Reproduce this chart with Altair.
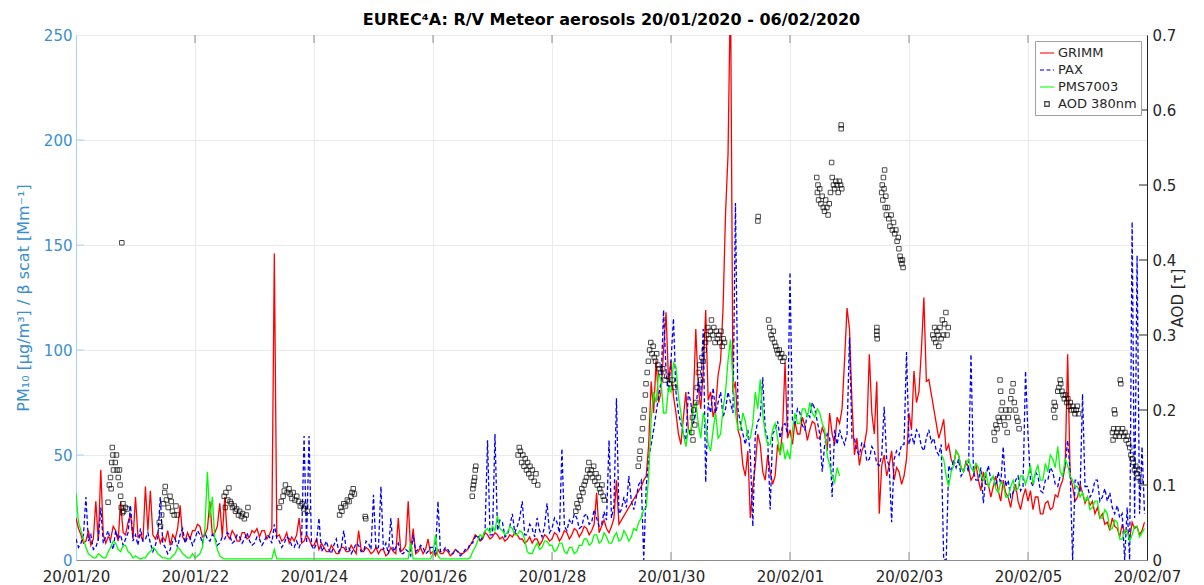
import altair as alt
import pandas as pd

# ---------------- data ----------------
series_names = ["GRIMM", "PAX", "PMS7003", "AOD 380nm"]
series_colors = ["#ff0000", "#0000ff", "#00ff00", "#000000"]

date_ticks = [(1, 20), (1, 22), (1, 24), (1, 26), (1, 28), (1, 30),
              (2, 1), (2, 3), (2, 5), (2, 7)]
left_ticks = [0, 50, 100, 150, 200, 250]
right_ticks = [0, 0.1, 0.2, 0.3, 0.4, 0.5, 0.6, 0.7]

# hourly values, one row per day (20/01 ... 06/02); None = no reading
grimm_days = [
    [20, 15, 12, 8, 9, 14, 7, 10, 28, 9, 43, 12, 8, 11, 10, 16, 14, 9, 28, 13, 12, 18, 22, 10],
    [30, 11, 12, 9, 35, 14, 33, 12, 10, 13, 8, 11, 9, 14, 7, 12, 10, 15, 26, 11, 9, 13, 10, 14],
    [14, 17, 16, 11, 12, 15, 28, 12, 13, 16, 27, 11, 30, 12, 10, 14, 12, 9, 9, 13, 13, 10, 11, 14],
    [13, 15, 11, 14, 14, 10, 12, 15, 146, 11, 12, 9, 10, 13, 8, 11, 9, 12, 20, 8, 9, 12, 10, 7],
    [7, 10, 5, 8, 6, 4, 4, 7, 5, 3, 3, 6, 6, 4, 4, 7, 5, 3, 14, 5, 4, 6, 5, 3],
    [4, 6, 3, 5, 5, 2, 3, 6, 4, 3, 20, 4, 5, 7, 28, 4, 15, 3, 4, 6, 3, 5, 10, 3],
    [4, 2, 5, 3, 3, 5, 4, 2, 3, 5, 4, 3, 3, 4, 5, 7, 9, 12, 11, 9, 10, 13, 12, 10],
    [11, 13, 12, 10, 11, 9, 10, 12, 11, 13, 12, 10, 10, 8, 9, 11, 8, 10, 10, 7, 9, 12, 11, 9],
    [10, 13, 12, 9, 11, 14, 13, 10, 12, 15, 14, 11, 13, 16, 15, 12, 14, 17, 32, 13, 16, 19, 15, 13],
    [16, 20, 38, 17, 19, None, None, None, None, None, None, None, 35, 38, 40, 55, 85, 70, 95, 75, 80, 100, 118, 85],
    [95, 78, 70, 60, 55, 68, 80, 62, 60, 75, 110, 82, 72, 90, 119, 76, 80, 68, 73, 88, 95, 120, 165, 193],
    [275, 80, 85, 62, 58, 45, 40, 52, 20, 35, 45, 60, 55, 42, 38, 50, 42, 36, 40, 55, 50, 62, 94, 58],
    [62, 55, 66, 60, 60, 68, 64, 57, 62, 66, 65, 58, 58, 63, 60, 52, 70, 60, 55, 68, 65, 72, 95, 120],
    [110, 75, 50, 58, 45, 52, 55, 62, 98, 70, 60, 85, 22, 45, 50, 40, 45, 52, 38, 44, 42, 36, 40, 48],
    [70, 62, 90, 75, 80, 100, 125, 85, 86, None, None, None, 58, 62, 67, 52, 55, 48, 45, 52, 50, 44, 42, 47],
    [44, 38, 40, 46, 38, 33, 42, 36, 36, 30, 35, 40, 33, 28, 38, 32, 30, 25, 32, 36, 28, 24, 30, 34],
    [28, 33, 24, 30, 30, 22, 22, 27, 28, 24, 25, 31, 30, 35, 38, 45, 98, 40, 35, 28, 30, 36, 32, 27],
    [30, 26, 28, 22, 25, 20, 22, 17, 18, 14, 20, 16, 15, 11, 17, 13, 14, 10, 18, 15, 16, 12, 14, 18],
]
pax_days = [
    [10, 6, 8, 12, 30, 9, 12, 5, 6, 10, 25, 8, 11, 14, 8, 5, 14, 10, 12, 7, 10, 13, 26, 9],
    [12, 7, 15, 9, 10, 13, 8, 4, 7, 11, 30, 8, 6, 3, 5, 9, 10, 6, 12, 15, 8, 11, 11, 7],
    [10, 14, 12, 8, 13, 10, 9, 12, 11, 7, 8, 11, 10, 13, 12, 8, 9, 12, 11, 8, 10, 13, 9, 7],
    [8, 11, 10, 7, 9, 12, 11, 8, 17, 10, 9, 6, 8, 11, 10, 7, 6, 9, 6, 9, 59, 8, 59, 7],
    [5, 8, 20, 4, 6, 9, 5, 3, 7, 10, 4, 6, 14, 5, 6, 3, 5, 8, 7, 4, 4, 9, 8, 5],
    [31, 5, 6, 35, 5, 8, 3, 20, 4, 6, 8, 3, 3, 5, 4, 2, 12, 4, 5, 7, 6, 3, 4, 6],
    [6, 3, 28, 4, 4, 6, 5, 3, 3, 5, 4, 2, 3, 5, 5, 8, 8, 11, 12, 9, 11, 14, 57, 12],
    [12, 60, 14, 19, 18, 11, 12, 16, 22, 13, 16, 20, 28, 12, 12, 17, 15, 11, 20, 14, 11, 16, 27, 13],
    [15, 20, 18, 13, 53, 16, 14, 19, 17, 22, 20, 15, 16, 21, 22, 17, 18, 24, 20, 16, 17, 23, 19, 57],
    [20, 26, 77, 22, 24, 30, 25, 40, 28, 24, 30, 36, 38, 0, 35, 48, 55, 62, 70, 78, 85, 119, 90, 80],
    [95, 115, 80, 70, 65, 60, 57, 80, 75, 65, 70, 85, 78, 110, 37, 75, 70, 82, 70, 75, 80, 68, 72, 80],
    [75, 70, 170, 72, 65, 60, 55, 62, 50, 16, 60, 66, 68, 87, 62, 58, 24, 60, 62, 66, 58, 64, 65, 60],
    [137, 66, 65, 72, 70, 64, 62, 70, 68, 75, 72, 66, 60, 42, 55, 60, 58, 30, 62, 55, 62, 58, 55, 60],
    [106, 58, 58, 52, 50, 56, 55, 47, 48, 54, 52, 46, 45, 50, 73, 48, 45, 18, 48, 52, 50, 55, 55, 99],
    [55, 60, 55, 62, 60, 54, 52, 58, 62, 56, 58, 52, 50, 55, 0, 0, 45, 42, 48, 44, 48, 40, 42, 46],
    [42, 98, 42, 38, 38, 44, 27, 40, 45, 38, 40, 35, 42, 36, 54, 35, 38, 30, 32, 38, 40, 33, 35, 90],
    [60, 38, 35, 42, 40, 33, 32, 38, 38, 44, 42, 36, 35, 40, 40, 45, 57, 42, 0, 38, 38, 32, 79, 35],
    [35, 30, 32, 38, 38, 28, 30, 34, 28, 32, 25, 22, 26, 20, 22, 0, 25, 0, 161, 20, 145, 22, 54, 22],
]
pms7003_days = [
    [32, 18, 14, 10, 6, 3, 2, 1, 1, 3, 2, 1, 1, 4, 6, 9, 8, 5, 4, 7, 7, 4, 3, 1],
    [2, 1, 0.5, 1, 1, 3, 4, 6, 5, 3, 2, 1, 1, 0.5, 0.5, 2, 3, 6, 5, 3, 2, 1, 1, 3],
    [1, 2, 3, 6, 15, 42, 20, 30, 10, 5, 2, 1, 0.5, 0.5, 0.5, 0.5, 0.5, 0.5, 0.5, 0.5, 0.5, 0.5, 0.5, 0.5],
    [0.5, 0.5, 0.5, 0.5, 0.5, 0.5, 0.5, 0.5, 5, 0.5, 0.5, 0.5, 0.5, 0.5, 0.5, 0.5, 0.5, 0.5, 0.5, 0.5, 0.5, 0.5, 0.5, 0.5],
    [0.5, 0.5, 0.5, 0.5, 0.5, 0.5, 0.5, 0.5, 0.5, 0.5, 0.5, 0.5, 0.5, 0.5, 0.5, 0.5, 0.5, 0.5, 0.5, 0.5, 0.5, 0.5, 0.5, 0.5],
    [0.5, 0.5, 0.5, 0.5, 0.5, 0.5, 0.5, 0.5, 0.5, 0.5, 0.5, 0.5, 0.5, 0.5, 0.5, 8, 0.5, 0.5, 0.5, 0.5, 0.5, 0.5, 0.5, 0.5],
    [3, 12, 2, 0.5, 0.5, 0.5, 0.5, 0.5, 0.5, 0.5, 0.5, 0.5, 0.5, 0.5, 0.5, 1, 4, 6, 9, 12, 11, 14, 15, 13],
    [16, 14, 21, 15, 14, 12, 13, 16, 15, 12, 12, 14, 13, 10, 4, 3, 3, 6, 8, 5, 6, 9, 9, 7],
    [7, 4, 5, 8, 8, 4, 3, 6, 6, 3, 4, 7, 7, 10, 10, 7, 8, 12, 12, 8, 9, 13, 11, 8],
    [8, 11, 13, 9, 10, 14, 12, 9, 11, 15, 14, 18, 20, 24, 25, 40, 67, 80, 75, 89, 85, 70, 70, 82],
    [80, 94, 92, 78, 70, 60, 54, 62, 60, 72, 75, 65, 58, 70, 65, 55, 52, 62, 70, 58, 60, 72, 80, 95],
    [105, 85, 70, 62, 62, 70, 66, 58, 58, 65, 80, 72, 86, 70, 60, 55, 55, 62, 65, 58, 50, 56, 48, 52],
    [48, 62, 70, 65, 65, 72, 72, 68, 75, 70, 68, 72, 70, 65, 62, 50, 45, 40, 37, 44, 40, None, None, None],
    [None, None, None, None, None, None, None, None, None, None, None, None, None, None, None, None, None, None, None, None, None, None, None, None],
    [None, None, None, None, None, None, None, None, None, None, None, None, None, 50, 48, 40, 35, 42, 45, 52, 50, 44, 42, 46],
    [48, 44, 42, 46, 44, 40, 38, 42, 35, 38, 40, 34, 32, 37, 36, 30, 30, 35, 38, 33, 34, 40, 40, 36],
    [40, 45, 36, 42, 45, 38, 38, 46, 42, 50, 48, 44, 54, 42, 40, 48, 45, 40, 38, 35, 35, 30, 32, 28],
    [30, 24, 25, 28, 28, 20, 20, 24, 22, 15, 15, 19, 18, 10, 10, 14, 14, 9, 12, 16, 16, 11, 13, 15],
]

# AOD 380nm: day offset from 20/01/2020 00:00 and value (one line per cluster)
aod_day = [
    0.77,
    0.54, 0.56, 0.58, 0.59, 0.60, 0.61, 0.62, 0.63, 0.66, 0.68, 0.69, 0.71, 0.73, 0.74, 0.75, 0.76, 0.78, 0.79, 0.80, 0.83, 0.86,
    1.40, 1.42, 1.44, 1.47, 1.49, 1.50, 1.52, 1.55, 1.58, 1.60, 1.62, 1.65, 1.68, 1.70,
    2.49, 2.51, 2.52, 2.55, 2.57, 2.59, 2.61, 2.63, 2.66, 2.68, 2.70, 2.73, 2.75, 2.78, 2.80, 2.83, 2.86, 2.89,
    3.42, 3.45, 3.48, 3.50, 3.52, 3.55, 3.58, 3.60, 3.63, 3.65, 3.68, 3.71, 3.74, 3.77, 3.80, 3.83, 3.86, 3.89,
    4.43, 4.45, 4.47, 4.50, 4.53, 4.56, 4.59, 4.62, 4.64, 4.66, 4.68, 4.86, 4.87,
    6.66, 6.67, 6.68, 6.69, 6.70, 6.71, 6.72,
    7.43, 7.45, 7.47, 7.49, 7.51, 7.53, 7.55, 7.57, 7.59, 7.61, 7.63, 7.65, 7.67, 7.70, 7.73, 7.76,
    8.40, 8.42, 8.44, 8.46, 8.48, 8.50, 8.52, 8.54, 8.56, 8.58, 8.60, 8.62, 8.64, 8.66, 8.68, 8.70, 8.72, 8.74, 8.76, 8.78, 8.80, 8.82, 8.84, 8.86, 8.88,
    9.45, 9.47, 9.48, 9.50, 9.52, 9.53, 9.55, 9.57, 9.58, 9.60, 9.62, 9.64, 9.66, 9.68, 9.70, 9.72, 9.74, 9.76, 9.78, 9.80, 9.83, 9.86, 9.90, 9.93, 9.97, 10.02, 10.06,
    10.35, 10.36, 10.37, 10.38, 10.40, 10.42, 10.44, 10.46, 10.48, 10.50, 10.52, 10.54, 10.56, 10.58, 10.60, 10.62, 10.64, 10.66, 10.68, 10.70, 10.72, 10.74, 10.76, 10.78, 10.80, 10.82, 10.84, 10.86, 10.88, 10.90,
    11.46, 11.465,
    11.64, 11.66, 11.68, 11.70, 11.72, 11.74, 11.76, 11.78, 11.80, 11.82, 11.84, 11.86, 11.88, 11.90,
    12.45, 12.46, 12.47, 12.48, 12.50, 12.52, 12.54, 12.56, 12.58, 12.60, 12.62, 12.64, 12.66, 12.68, 12.70, 12.71, 12.73, 12.75, 12.77, 12.79, 12.81, 12.83, 12.85, 12.87,
    12.86, 12.86,
    13.46, 13.46, 13.46, 13.465,
    13.54, 13.55, 13.56, 13.57, 13.58, 13.59, 13.60, 13.61, 13.62, 13.64, 13.66, 13.68, 13.70, 13.72, 13.74, 13.76, 13.78, 13.80, 13.82, 13.83, 13.85, 13.86, 13.88, 13.89, 13.90,
    14.40, 14.42, 14.43, 14.45, 14.47, 14.49, 14.50, 14.52, 14.54, 14.56, 14.58, 14.60, 14.62, 14.64, 14.66,
    15.43, 15.44, 15.46, 15.48, 15.50, 15.52, 15.53, 15.54, 15.55, 15.57, 15.59, 15.61, 15.63, 15.65, 15.67, 15.69, 15.71, 15.73, 15.75, 15.77, 15.79, 15.81, 15.83, 15.85,
    16.43, 16.44, 16.45, 16.46, 16.50, 16.52, 16.54, 16.55, 16.57, 16.59, 16.61, 16.63, 16.65, 16.67, 16.69, 16.71, 16.73, 16.75, 16.77, 16.79, 16.81, 16.83, 16.85,
    17.42, 17.43, 17.44, 17.45, 17.46, 17.47, 17.49, 17.51, 17.53, 17.55, 17.56, 17.57, 17.59, 17.61, 17.63, 17.65, 17.67, 17.69, 17.71, 17.73, 17.75, 17.77, 17.79, 17.81, 17.83, 17.85, 17.87, 17.89,
]
aod_val = [
    0.423,
    0.077, 0.10, 0.11, 0.095, 0.13, 0.15, 0.14, 0.12, 0.13, 0.14, 0.12, 0.11, 0.12, 0.10, 0.085, 0.07, 0.063, 0.075, 0.065, 0.07, 0.068,
    0.05, 0.045, 0.06, 0.075, 0.09, 0.098, 0.08, 0.07, 0.085, 0.078, 0.065, 0.06, 0.072, 0.06,
    0.085, 0.07, 0.09, 0.08, 0.096, 0.078, 0.075, 0.07, 0.072, 0.065, 0.068, 0.06, 0.065, 0.058, 0.062, 0.055, 0.06, 0.07,
    0.07, 0.078, 0.085, 0.092, 0.10, 0.09, 0.095, 0.088, 0.082, 0.09, 0.08, 0.085, 0.078, 0.072, 0.075, 0.068, 0.072, 0.065,
    0.06, 0.07, 0.065, 0.075, 0.072, 0.08, 0.078, 0.085, 0.09, 0.095, 0.088, 0.058, 0.055,
    0.085, 0.095, 0.10, 0.105, 0.11, 0.12, 0.125,
    0.14, 0.15, 0.145, 0.13, 0.14, 0.125, 0.135, 0.12, 0.13, 0.115, 0.125, 0.11, 0.12, 0.105, 0.115, 0.10,
    0.065, 0.075, 0.07, 0.085, 0.08, 0.095, 0.09, 0.10, 0.105, 0.11, 0.12, 0.13, 0.115, 0.12, 0.11, 0.125, 0.105, 0.115, 0.10, 0.11, 0.095, 0.09, 0.10, 0.085, 0.08,
    0.125, 0.135, 0.145, 0.16, 0.175, 0.19, 0.20, 0.22, 0.235, 0.25, 0.265, 0.28, 0.29, 0.275, 0.285, 0.27, 0.265, 0.275, 0.26, 0.255, 0.25, 0.255, 0.24, 0.245, 0.235, 0.24, 0.23,
    0.17, 0.19, 0.16, 0.20, 0.18, 0.21, 0.23, 0.25, 0.26, 0.24, 0.27, 0.265, 0.28, 0.29, 0.30, 0.31, 0.295, 0.305, 0.32, 0.30, 0.31, 0.29, 0.305, 0.295, 0.30, 0.29, 0.305, 0.285, 0.295, 0.29,
    0.452, 0.458,
    0.32, 0.31, 0.30, 0.295, 0.305, 0.29, 0.285, 0.28, 0.275, 0.28, 0.27, 0.275, 0.265, 0.27,
    0.51, 0.49, 0.50, 0.48, 0.495, 0.475, 0.485, 0.47, 0.465, 0.48, 0.47, 0.46, 0.475, 0.49, 0.53, 0.51, 0.50, 0.495, 0.505, 0.50, 0.49, 0.505, 0.50, 0.495,
    0.58, 0.575,
    0.31, 0.305, 0.30, 0.295,
    0.49, 0.50, 0.48, 0.51, 0.495, 0.52, 0.47, 0.485, 0.46, 0.47, 0.455, 0.445, 0.46, 0.44, 0.45, 0.435, 0.44, 0.425, 0.43, 0.415, 0.405, 0.40, 0.395, 0.40, 0.39,
    0.30, 0.295, 0.31, 0.29, 0.305, 0.30, 0.285, 0.31, 0.295, 0.32, 0.30, 0.315, 0.33, 0.30, 0.31,
    0.17, 0.16, 0.18, 0.175, 0.19, 0.185, 0.24, 0.225, 0.20, 0.21, 0.19, 0.18, 0.20, 0.17, 0.19, 0.20, 0.215, 0.225, 0.235, 0.21, 0.20, 0.19, 0.185, 0.175,
    0.20, 0.21, 0.19, 0.205, 0.225, 0.23, 0.24, 0.235, 0.225, 0.22, 0.215, 0.22, 0.21, 0.215, 0.205, 0.21, 0.20, 0.205, 0.20, 0.195, 0.20, 0.205, 0.195,
    0.17, 0.16, 0.175, 0.20, 0.195, 0.165, 0.17, 0.175, 0.165, 0.24, 0.235, 0.17, 0.175, 0.165, 0.17, 0.16, 0.165, 0.155, 0.15, 0.14, 0.135, 0.13, 0.12, 0.125, 0.115, 0.11, 0.12, 0.105,
]
assert len(aod_day) == len(aod_val), (len(aod_day), len(aod_val))
for days in (grimm_days, pax_days, pms7003_days):
    assert len(days) == 18 and all(len(d) == 24 for d in days), [len(d) for d in days]

# ---------------- tables ----------------
base = pd.Timestamp("2020-01-20")


def line_frame(name, days, break_on_gap):
    rows, seg, gap = [], 0, False
    values = [v for day in days for v in day]
    for i, v in enumerate(values):
        if v is None:
            gap = True
            continue
        if gap and break_on_gap:
            seg += 1
        gap = False
        t = base + pd.Timedelta(hours=i)
        rows.append({"time": t.isoformat(), "value": v, "series": name, "seg": seg})
    return pd.DataFrame(rows)


df_grimm = line_frame("GRIMM", grimm_days, False)
df_pax = line_frame("PAX", pax_days, True)
df_pms = line_frame("PMS7003", pms7003_days, True)
df_aod = pd.DataFrame({
    "time": [(base + pd.Timedelta(days=d)).isoformat() for d in aod_day],
    "aod": aod_val,
    "series": "AOD 380nm",
})
df_dates = pd.DataFrame({"t": [pd.Timestamp(2020, m, d).isoformat() for m, d in date_ticks[1:-1]]})
df_lt = pd.DataFrame({"v": left_ticks[1:-1]})
df_rt = pd.DataFrame({"v": right_ticks[1:-1]})

# ---------------- styling ----------------
W, H = 1071, 525
BLUE = "#3a8fd1"
LIGHTBLUE = "#a9d1f0"
DARK = "#262626"
FRAME = "#8c8c8c"
GRID = "#ebebeb"
FONT = "DejaVu Sans"
LINE_PATH = "M-1,0H1"
SQUARE_PATH = "M-0.32,-0.32H0.32V0.32H-0.32Z"

x_scale = alt.Scale(domain=[alt.DateTime(year=2020, month=1, date=20),
                            alt.DateTime(year=2020, month=2, date=7)])
x_axis = alt.Axis(values=[alt.DateTime(year=2020, month=m, date=d) for m, d in date_ticks],
                  format="%y/%m/%d", title=None, grid=True, gridColor=GRID, ticks=False,
                  labelFontSize=15, labelColor=DARK, labelPadding=9, labelFlush=False,
                  labelOverlap=False, domainColor=FRAME)
left_scale = alt.Scale(domain=[0, 250])
left_axis = alt.Axis(values=left_ticks, title="PM₁₀ [μg/m³] / β scat [Mm⁻¹]",
                     grid=True, gridColor=GRID, ticks=False, labelFontSize=15,
                     labelColor=BLUE, labelPadding=4, titleColor=BLUE, titleFontSize=16,
                     titleFontWeight="normal", titlePadding=12, domainColor=LIGHTBLUE)
right_scale = alt.Scale(domain=[0, 0.7])
right_axis = alt.Axis(values=right_ticks, orient="right", format="~g", title="AOD [τ]",
                      grid=False, ticks=False, labelFontSize=15, labelColor=DARK,
                      labelPadding=5, titleColor=DARK, titleFontSize=15,
                      titleFontWeight="normal", titleAngle=270, titlePadding=10,
                      domainColor=DARK)

color_enc = alt.Color("series:N", scale=alt.Scale(domain=series_names, range=series_colors),
                      legend=alt.Legend(title=None))
dash_enc = alt.StrokeDash("series:N",
                          scale=alt.Scale(domain=series_names,
                                          range=[[1, 0], [4, 2.5], [1, 0], [1, 0]]),
                          legend=alt.Legend(title=None))
shape_enc = alt.Shape("series:N",
                      scale=alt.Scale(domain=series_names,
                                      range=[LINE_PATH, LINE_PATH, LINE_PATH, SQUARE_PATH]),
                      legend=alt.Legend(title=None))

X = alt.X("time:T", scale=x_scale, axis=x_axis)
Y_left = alt.Y("value:Q", scale=left_scale, axis=left_axis)


def line_layer(df, width):
    return alt.Chart(df).mark_line(strokeWidth=width, clip=True).encode(
        x=X, y=Y_left, color=color_enc, strokeDash=dash_enc, detail="seg:N")


left_tick_rules = alt.Chart(df_lt).mark_rule(color=LIGHTBLUE, strokeWidth=1).encode(
    y=alt.Y("v:Q", scale=left_scale, axis=left_axis), x=alt.value(0), x2=alt.value(8))
bottom_ticks = alt.Chart(df_dates).mark_rule(color=FRAME, strokeWidth=1).encode(
    x=alt.X("t:T", scale=x_scale, axis=x_axis), y=alt.value(H), y2=alt.value(H - 8))
top_ticks = alt.Chart(df_dates).mark_rule(color=FRAME, strokeWidth=1).encode(
    x=alt.X("t:T", scale=x_scale, axis=x_axis), y=alt.value(0), y2=alt.value(8))

left = alt.layer(
    line_layer(df_grimm, 1.3),
    line_layer(df_pax, 1.3),
    line_layer(df_pms, 1.3),
    left_tick_rules, bottom_ticks, top_ticks,
)

aod_points = alt.Chart(df_aod).mark_point(filled=False, size=196, strokeWidth=1).encode(
    x=X, y=alt.Y("aod:Q", scale=right_scale, axis=right_axis),
    color=color_enc, shape=shape_enc)
right_tick_rules = alt.Chart(df_rt).mark_rule(color=DARK, strokeWidth=1).encode(
    y=alt.Y("v:Q", scale=right_scale, axis=right_axis), x=alt.value(W - 8), x2=alt.value(W))
right = alt.layer(aod_points, right_tick_rules)

chart = alt.layer(left, right).resolve_scale(y="independent").properties(
    width=W, height=H,
    title=alt.TitleParams("EUREC⁴A: R/V Meteor aerosols 20/01/2020 - 06/02/2020",
                          fontSize=16, fontWeight="bold", anchor="middle", offset=0,
                          color="#000000", font=FONT),
    padding={"left": 68, "top": 27, "right": 49, "bottom": 32},
    autosize=alt.AutoSizeParams(type="none"),
).configure(font=FONT).configure_view(stroke=FRAME, strokeWidth=1).configure_legend(
    orient="top-right", offset=6, fillColor="white", strokeColor="#a0a0a0",
    padding=4, labelFontSize=13, labelColor=DARK, labelFont=FONT, symbolSize=196,
    symbolStrokeWidth=1.3, rowPadding=2, labelOffset=3, cornerRadius=0,
)

chart.save("out.html", embed_options={"renderer": "svg", "actions": False})
